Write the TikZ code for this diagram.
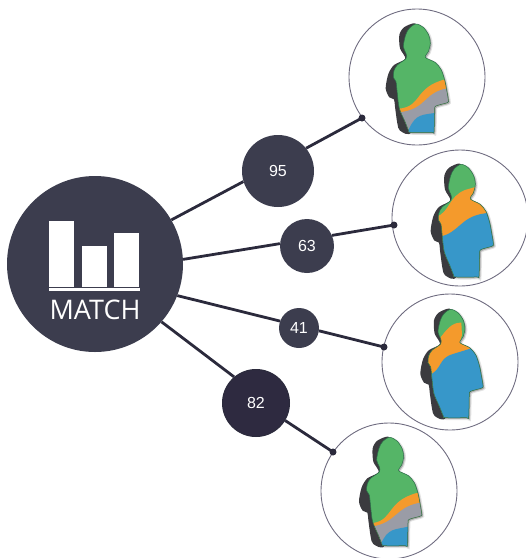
\documentclass[tikz,border=0pt]{standalone}
\usepackage{fontspec}
\setmainfont{Liberation Sans}
\newfontfamily\matchfont{Open Sans}
\definecolor{navy}{HTML}{3C3D4E}
\definecolor{navyd}{HTML}{2E2A40}
\definecolor{ringc}{HTML}{6F6C80}
\definecolor{lnc}{HTML}{2B2A3C}
\definecolor{fgreen}{HTML}{55B567}
\definecolor{forange}{HTML}{F49A2C}
\definecolor{fgray}{HTML}{9A9CA6}
\definecolor{fblue}{HTML}{3797C9}
\definecolor{fdark}{HTML}{3B3B3F}
\definecolor{fedge}{HTML}{2A6E48}
\tikzset{
  numnode/.style={circle,fill=navy,text=white,inner sep=0pt,font=\fontsize{16}{16}\selectfont},
  ringnode/.style={circle,draw=ringc,line width=.9pt,minimum size=136pt,inner sep=0pt},
  dotnode/.style={circle,fill=lnc,minimum size=7pt,inner sep=0pt},
  link/.style={draw=lnc,line width=2.8pt},
  bar/.style={fill=white,draw=none}
}
% front silhouette in the coordinates of the first figure's 3x crop
\newcommand{\frontpath}{plot[smooth cycle,tension=.5] coordinates {
 (198,176)(198,160)(190,140)(197,105)(208,85)(228,72)(250,82)(266,105)(271,130)(265,155)(256,172)
 (285,187)(303,208)(314,240)(320,270)(325,300)(322,308)(288,318)(284,330)(282,395)(275,397)(212,397)(206,392)
 (195,365)(178,325)(172,280)(168,245)(160,232)(162,212)(172,195)}}
\newcommand{\darkpath}{plot[smooth cycle,tension=.45] coordinates {
 (196,176)(180,145)(178,105)(192,82)(225,70)(240,100)(250,250)(215,395)(180,392)(172,370)(165,320)(162,298)(148,292)(137,265)(145,222)(162,195)}}
% #1,#2 origin of crop; #3,#4 silhouette shift; #5 y stretch; #6 colour bands in crop coordinates
\newcommand{\person}[6]{
 \begin{scope}[shift={(#1,#2)},x=.3333pt,y=-.3333pt]
  \begin{scope}[shift={(#3,#4)},yscale=#5]
   \filldraw[gray,opacity=.22,line width=2.4pt,xshift=1.2pt,yshift=-1.2pt] \frontpath;
   \fill[gray,opacity=.4,xshift=1.2pt,yshift=-1.2pt] \frontpath;
   \fill[fdark] \darkpath;
  \end{scope}
  \begin{scope}
   \clip[shift={(#3,#4)},yscale=#5] \frontpath;
   \fill[fgreen] (100,0) rectangle (360,430);
   #6
  \end{scope}
  \begin{scope}[shift={(#3,#4)},yscale=#5]
   \draw[fedge,line width=.5pt] \frontpath;
  \end{scope}
 \end{scope}
}
\begin{document}
\begin{tikzpicture}[x=1pt,y=-1pt]
\useasboundingbox (0,0) rectangle (526,558);
\node[ringnode] (r1) at (417,77) {};
\node[ringnode] (r2) at (460,218) {};
\node[ringnode] (r3) at (450,362) {};
\node[ringnode] (r4) at (389,491) {};

\person{340}{0}{0}{0}{1}{
 \fill[forange] (130,328) -- (185,325) .. controls (245,315) and (225,262) .. (315,238) -- (340,232) -- (340,430) -- (130,430) -- cycle;
 \fill[fgray] (130,340) -- (185,336) .. controls (260,325) and (250,280) .. (320,265) -- (340,262) -- (340,430) -- (130,430) -- cycle;
 \fill[fblue] (200,400) -- (208,385) .. controls (228,340) and (250,345) .. (290,338) -- (290,430) -- (200,430) -- cycle;
}
\person{385}{145}{0}{-17}{1.04}{
 \fill[forange] (120,228) -- (155,215) .. controls (195,200) and (190,155) .. (240,135) -- (275,125) -- (340,125) -- (340,420) -- (120,420) -- cycle;
 \fill[fblue] (120,282) -- (165,275) .. controls (225,262) and (225,215) .. (300,205) -- (340,200) -- (340,420) -- (120,420) -- cycle;
}
\person{378}{290}{-10}{-14}{1}{
 \fill[forange] (120,170) -- (187,143) .. controls (205,120) and (222,96) .. (250,98) -- (252,135) -- (245,160) -- (340,170) -- (340,420) -- (120,420) -- cycle;
 \fill[fblue] (120,275) -- (155,255) .. controls (195,235) and (180,205) .. (225,192) -- (280,175) -- (340,190) -- (340,420) -- (120,420) -- cycle;
 \fill[fgreen] (140,278) rectangle (152,292);
}
\person{315}{418}{-5}{-14}{1}{
 \fill[forange] (120,322) -- (175,315) .. controls (235,305) and (215,250) .. (305,225) -- (340,218) -- (340,420) -- (120,420) -- cycle;
 \fill[fgray] (120,332) -- (175,325) .. controls (245,312) and (240,270) .. (310,255) -- (340,252) -- (340,420) -- (120,420) -- cycle;
 \fill[fblue] (192,392) -- (198,378) .. controls (218,330) and (240,335) .. (280,326) -- (290,420) -- (192,420) -- cycle;
}

\node[circle,fill=navy,minimum size=176pt,inner sep=0pt] (main) at (95,264) {};
\fill[bar] (49,221) rectangle (74,287);
\fill[bar] (82,246) rectangle (107,287);
\fill[bar] (114,233) rectangle (139,287);
\fill[bar] (49,287.6) rectangle (140,290.6);
\node[text=white,inner sep=0pt,font=\matchfont\fontsize{27}{27}\selectfont] (mt) at (95,310) {MATCH};

\node[numnode,minimum size=72pt] (n1) at (278,171) {95};
\node[numnode,minimum size=54pt] (n2) at (307,246) {63};
\node[numnode,minimum size=40pt] (n3) at (299,328) {41};
\node[numnode,minimum size=67pt,fill=navyd,draw=lnc,line width=1pt] (n4) at (256,403) {82};

\node[dotnode] (d1) at (362,118) {};
\node[dotnode] (d2) at (394,225) {};
\node[dotnode] (d3) at (384,347) {};
\node[dotnode] (d4) at (333,452) {};

\draw[link] (main.30) -- (n1.197);
\draw[link] (n1.39) -- (d1.center);
\draw[link] (main.3) -- (n2.175);
\draw[link] (n2.23) -- (d2.center);
\draw[link] (main.-21) -- (n3.160);
\draw[link] (n3.-8) -- (d3.center);
\draw[link] (main.-41) -- (n4.130);
\draw[link] (n4.-31) -- (d4.center);
\end{tikzpicture}
\end{document}
